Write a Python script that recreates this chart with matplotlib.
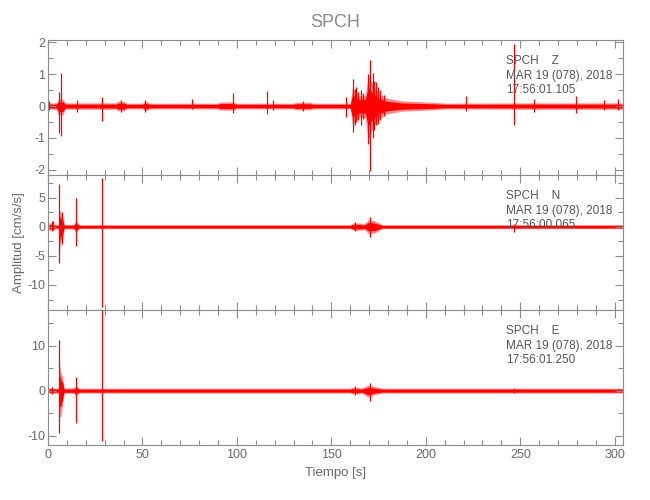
import numpy as np
import matplotlib
matplotlib.use("Agg")
import matplotlib.pyplot as plt
from matplotlib.ticker import MultipleLocator

plt.rcParams['font.family'] = ['Liberation Sans', 'DejaVu Sans']
plt.rcParams['axes.unicode_minus'] = False

station = "SPCH"
components = ["Z", "N", "E"]
date_text = "MAR 19 (078), 2018"
start_times = ["17:56:01.105", "17:56:00.065", "17:56:01.250"]
x_ticks = [0, 50, 100, 150, 200, 250, 300]

# ---- Z component: envelope knots (time, upper, lower) ----
z_env_t = [0.5, 4.5, 5.5, 8.0, 9.0, 36, 37, 40.5, 41.5, 50, 51, 52.5, 53.5, 90, 91, 98.5, 99.5,
           130, 131, 139, 140, 160.0, 161.2, 163, 165, 168.0, 169.5, 172.5, 175, 179, 188,
           200, 211, 250, 304]
z_env_hi = [0.10, 0.10, 0.22, 0.22, 0.10, 0.10, 0.15, 0.15, 0.09, 0.09, 0.14, 0.14, 0.09, 0.09, 0.13, 0.13, 0.09,
            0.09, 0.12, 0.12, 0.09, 0.09, 0.60, 0.45, 0.32, 0.35, 0.95, 0.62, 0.42, 0.25, 0.16,
            0.13, 0.09, 0.10, 0.10]
z_env_lo = [-0.10, -0.10, -0.28, -0.28, -0.10, -0.10, -0.15, -0.15, -0.09, -0.09, -0.14, -0.14, -0.09, -0.09, -0.13, -0.13, -0.09,
            -0.09, -0.12, -0.12, -0.09, -0.09, -0.60, -0.45, -0.34, -0.38, -1.05, -0.60, -0.42, -0.25, -0.16,
            -0.13, -0.09, -0.10, -0.10]
# Z component: isolated peaks
z_spk_t = [0.8, 5.8, 6.9, 15.2, 28.7, 38.5, 51.3, 76.0, 98.0, 116.2, 119.0, 135.0, 158.0,
           161.5, 162.3, 163.0, 164.2, 165.5, 167.0, 169.5, 170.7, 171.8, 172.8, 173.5, 174.6, 176.0, 178.0,
           221.5, 246.6, 257.5, 279.4, 294.2, 301.7]
z_spk_hi = [0.15, 0.45, 1.04, 0.18, 0.29, 0.19, 0.19, 0.22, 0.40, 0.48, 0.18, 0.16, 0.27,
            0.86, 0.55, 0.60, 0.45, 0.50, 0.40, 1.00, 1.44, 1.05, 0.80, 0.75, 0.60, 0.50, 0.35,
            0.31, 1.96, 0.21, 0.32, 0.19, 0.22]
z_spk_lo = [-0.12, -0.85, -0.94, -0.18, -0.46, -0.18, -0.18, -0.10, -0.23, -0.25, -0.12, -0.15, -0.33,
            -0.80, -0.60, -0.50, -0.45, -0.60, -0.40, -1.20, -2.02, -1.00, -0.75, -0.60, -0.55, -0.45, -0.30,
            -0.15, -0.59, -0.20, -0.21, -0.12, -0.12]

# ---- N component ----
n_env_t = [0.5, 4.5, 5.5, 5.9, 6.8, 7.8, 8.5, 13.5, 14.3, 15.5, 16.5, 160, 161.5, 166, 167.5,
           169.5, 173, 177, 304]
n_env_hi = [0.7, 0.35, 0.35, 3.2, 2.3, 2.0, 0.4, 0.4, 0.8, 0.8, 0.35, 0.35, 0.65, 0.6, 0.45,
            1.2, 1.0, 0.35, 0.35]
n_env_lo = [-0.7, -0.35, -0.35, -4.6, -2.6, -2.2, -0.4, -0.4, -0.8, -0.8, -0.35, -0.35, -0.65, -0.6, -0.45,
            -1.2, -1.1, -0.35, -0.35]
n_spk_t = [2.0, 2.8, 6.0, 7.2, 14.8, 28.7, 162.4, 170.4, 246.6]
n_spk_hi = [1.0, 0.9, 7.4, 2.5, 4.9, 8.3, 0.8, 1.7, 0.5]
n_spk_lo = [-0.8, -0.6, -6.3, -3.0, -3.3, -13.7, -0.8, -1.7, -0.86]

# ---- E component ----
e_env_t = [0.5, 4.5, 5.5, 5.9, 6.8, 7.8, 8.5, 13.5, 14.3, 15.5, 16.5, 160, 161.5, 164.5, 166,
           169.5, 172, 177, 304]
e_env_hi = [0.7, 0.55, 0.55, 6.4, 4.0, 3.0, 0.6, 0.6, 0.9, 0.9, 0.55, 0.55, 0.8, 0.7, 0.55,
            1.2, 1.0, 0.55, 0.55]
e_env_lo = [-0.7, -0.55, -0.55, -5.8, -5.8, -3.0, -0.6, -0.6, -0.9, -0.9, -0.55, -0.55, -0.8, -0.7, -0.55,
            -1.5, -1.0, -0.55, -0.55]
e_spk_t = [2.0, 6.0, 14.8, 28.7, 162.5, 170.5, 246.6]
e_spk_hi = [0.8, 11.3, 3.1, 18.5, 1.0, 1.8, 0.6]
e_spk_lo = [-0.7, -9.3, -7.1, -11.1, -0.9, -2.4, -0.6]

y_limits = [(-2.16, 2.07), (-14.3, 8.87), (-12.07, 17.9)]
y_major = [1, 5, 10]
y_minor = [0.5, 2.5, 5]

traces = [
    (z_env_t, z_env_hi, z_env_lo, z_spk_t, z_spk_hi, z_spk_lo),
    (n_env_t, n_env_hi, n_env_lo, n_spk_t, n_spk_hi, n_spk_lo),
    (e_env_t, e_env_hi, e_env_lo, e_spk_t, e_spk_hi, e_spk_lo),
]

axis_col = '#8c8c8c'
text_col = '#6a6a6a'

fig = plt.figure(figsize=(6.5, 5), dpi=100)
left, width, height = 0.0738, 0.885, 0.27
bottoms = [0.65, 0.38, 0.11]

axes = []
for i in range(3):
    ax = fig.add_axes([left, bottoms[i], width, height])
    axes.append(ax)
    et, eh, el, st, sh, sl = traces[i]
    et = np.asarray(et); eh = np.asarray(eh); el = np.asarray(el)
    ax.fill_between(et, el, eh, color='#ff0000', alpha=0.45, lw=0)
    ax.fill_between(et, el * 0.6, eh * 0.6, color='#ff0000', lw=0)
    ax.vlines(st, sl, sh, color='#ff0000', lw=0.9)
    ax.set_xlim(0, 304.5)
    ax.set_ylim(*y_limits[i])
    ax.xaxis.set_major_locator(MultipleLocator(50))
    ax.xaxis.set_minor_locator(MultipleLocator(10))
    ax.yaxis.set_major_locator(MultipleLocator(y_major[i]))
    ax.yaxis.set_minor_locator(MultipleLocator(y_minor[i]))
    ax.tick_params(which='both', direction='in', top=True, right=True,
                   color=axis_col, labelcolor=text_col, labelsize=9, width=0.8)
    ax.tick_params(which='major', length=6)
    ax.tick_params(which='minor', length=3.5)
    ax.tick_params(axis='y', pad=2)
    ax.tick_params(axis='x', pad=3)
    for s in ax.spines.values():
        s.set_color(axis_col)
        s.set_linewidth(0.8)
    if i < 2:
        ax.tick_params(axis='x', labelbottom=False)
    else:
        ax.set_xticks(x_ticks)
    ax.text(0.7956, 0.845, f"{station}    {components[i]}", transform=ax.transAxes,
            ha='left', va='center', fontsize=8.5, color='#555555')
    ax.text(0.7956, 0.737, date_text, transform=ax.transAxes,
            ha='left', va='center', fontsize=8.5, color='#555555')
    ax.text(0.7956, 0.63, start_times[i], transform=ax.transAxes,
            ha='left', va='center', fontsize=8.5, color='#555555')

axes[2].set_xlabel("Tiempo [s]", fontsize=9.5, color=text_col, labelpad=4)
fig.text(0.030, 1 - 242.5 / 500, "Amplitud [cm/s/s]", rotation=90, ha='center', va='center',
         fontsize=9.5, color=text_col)
fig.text(0.516, 0.955, station, ha='center', va='center', fontsize=13, color='#8a8a8a')

fig.savefig("out.png", dpi=100)
